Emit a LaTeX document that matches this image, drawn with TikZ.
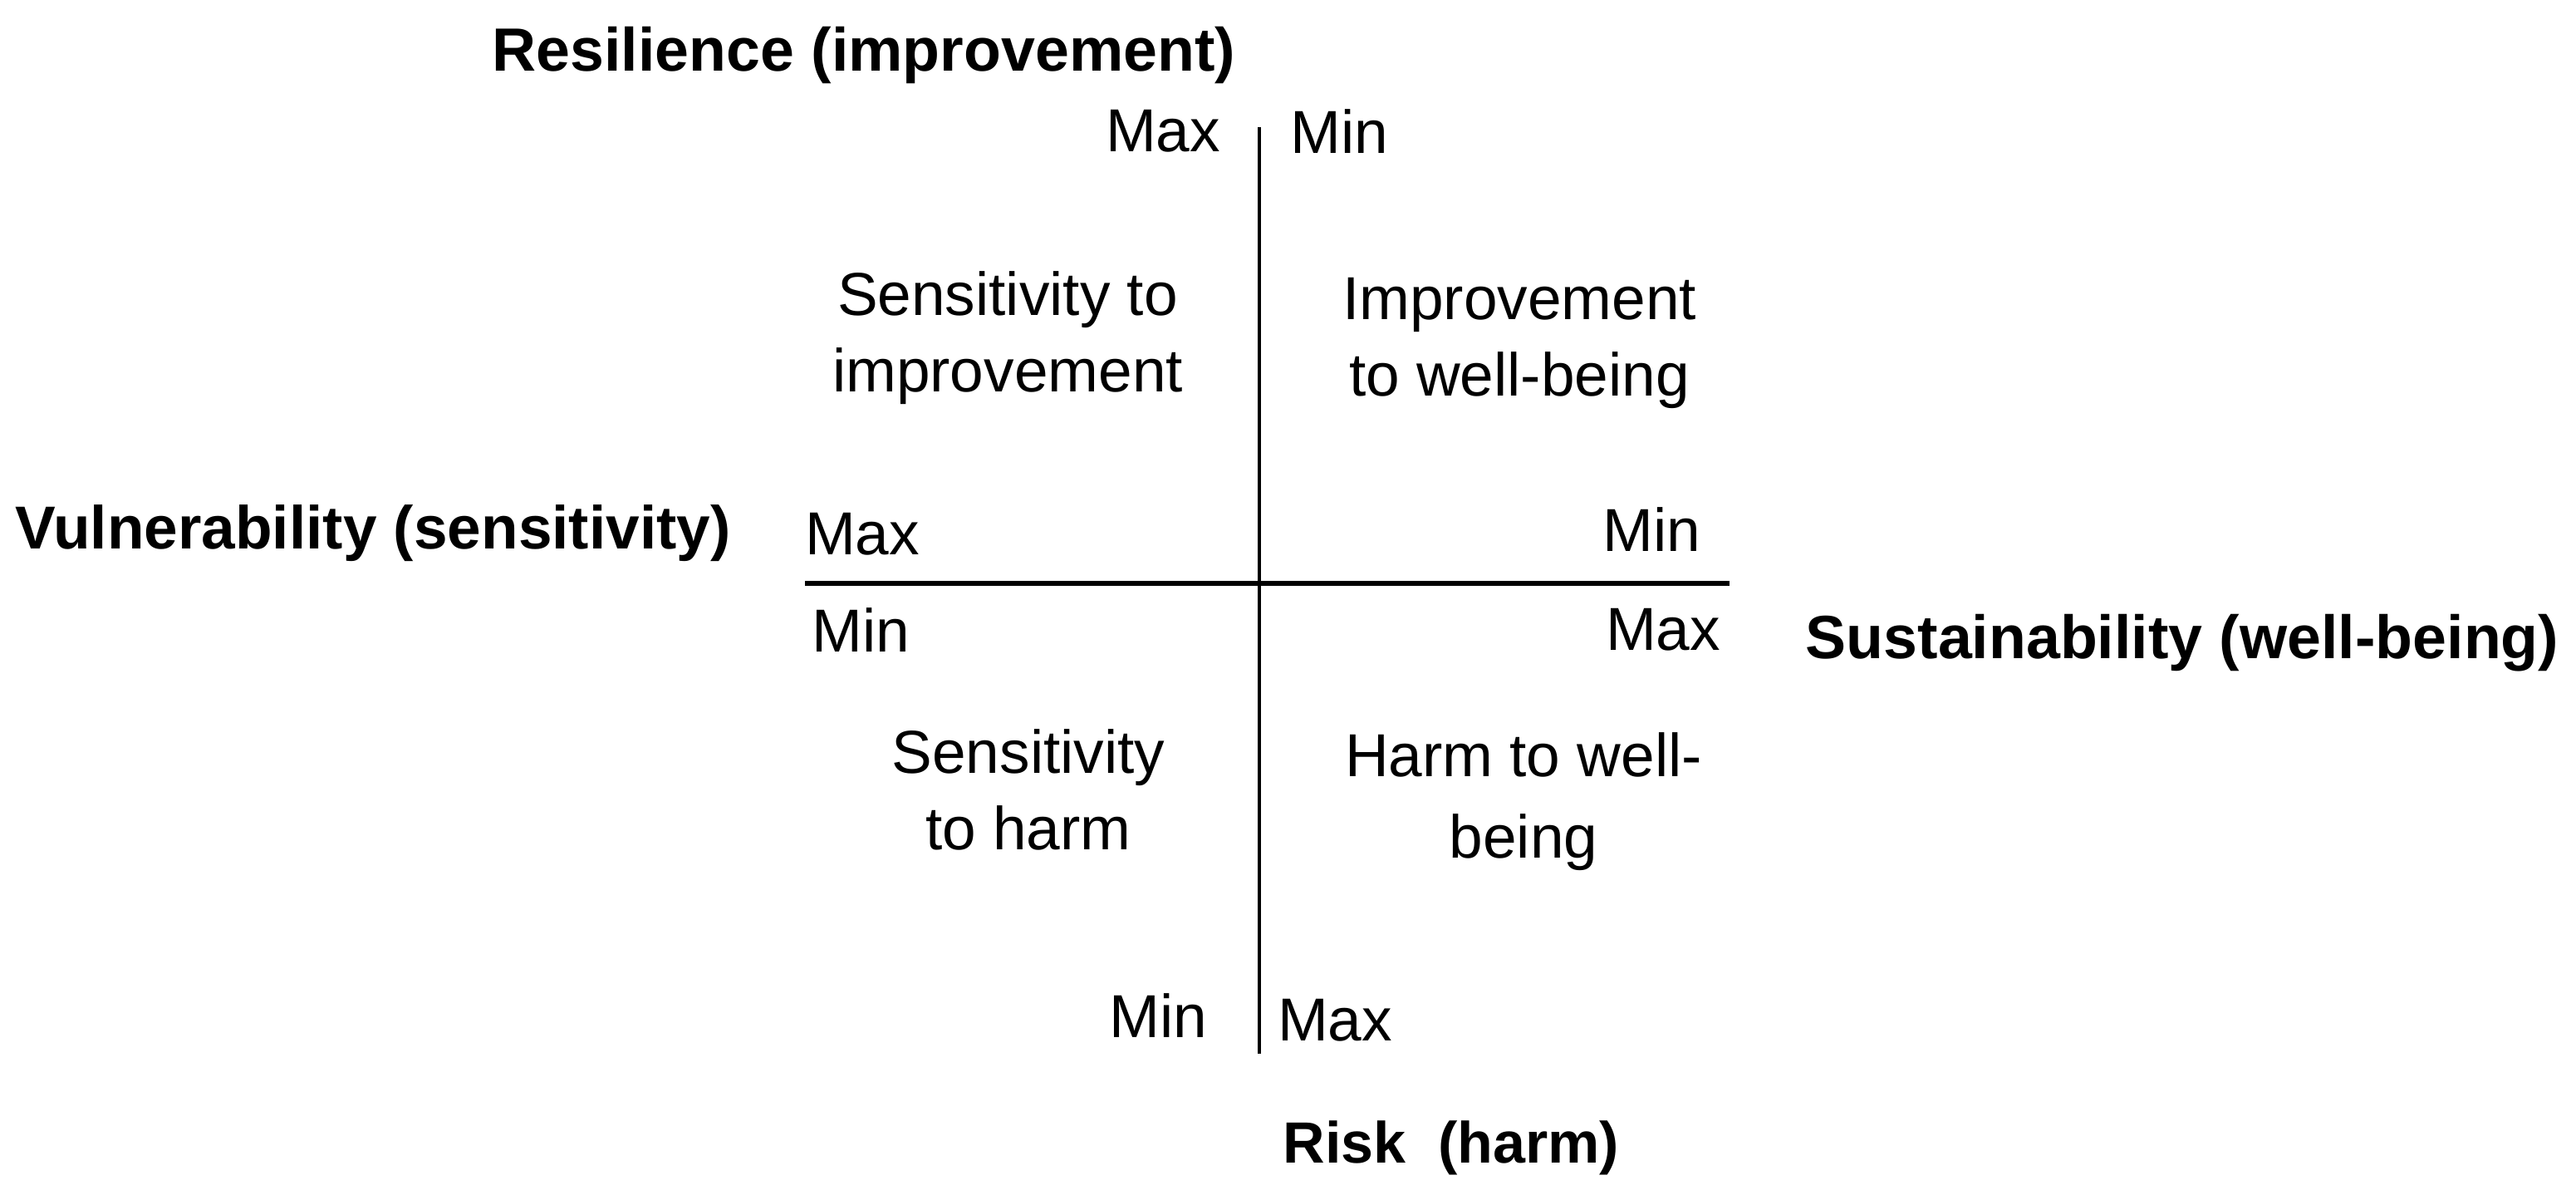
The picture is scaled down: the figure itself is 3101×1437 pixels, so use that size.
\documentclass[tikz,border=0pt]{standalone}
\usepackage{fontspec}
\setmainfont{Liberation Sans}
\begin{document}
\begin{tikzpicture}[x=0.5pt,y=-0.5pt,
  lbl/.style={inner sep=0pt,outer sep=0pt,font=\fontsize{36.5}{46}\selectfont},
  quad/.style={lbl,align=center},
  axis/.style={inner sep=0pt,outer sep=0pt,font=\fontsize{36.75}{46}\selectfont\bfseries},
  axisline/.style={draw=black,line width=2.6pt}]
\useasboundingbox[fill=white] (0,0) rectangle (3101,1437);
% axis lines
\coordinate (vtop) at (1516,153);
\coordinate (vbot) at (1516,1268);
\coordinate (hl) at (969,702);
\coordinate (hr) at (2082,702);
\draw[axisline,line width=2.4pt] (vtop) -- (vbot);
\draw[axisline,line width=3.2pt] (hl) -- (hr);
% axis titles
\node[axis] (res) at (1040,66) {Resilience (improvement)};
\node[axis,font=\fontsize{36.5}{46}\selectfont\bfseries] (vul) at (449,642) {Vulnerability (sensitivity)};
\node[axis] (sus) at (2627,774) {Sustainability (well-being)};
\node[axis,font=\fontsize{35}{46}\selectfont\bfseries] (risk) at (1747,1381) {Risk\ \ (harm)};
% Max / Min labels
\node[lbl] (maxtl) at (1400,158) {Max};
\node[lbl] (mintr) at (1612,158) {Min};
\node[lbl] (maxl) at (1038,643) {Max};
\node[lbl] (minr) at (1988,637) {Min};
\node[lbl] (minbl) at (1036,758) {Min};
\node[lbl] (maxbr) at (2002,758) {Max};
\node[lbl] (minb) at (1394,1222) {Min};
\node[lbl] (maxb) at (1607,1228) {Max};
% quadrant texts
\node[quad] (ul) at (1213,407) {Sensitivity to\\improvement};
\node[quad] (ur) at (1829,413) {Improvement\\to well-being};
\node[quad] (ll) at (1238,950) {Sensitivity\\to harm};
\node[quad,font=\fontsize{36.5}{49}\selectfont] (lr) at (1834,965) {Harm to well-\\being};
\end{tikzpicture}
\end{document}
